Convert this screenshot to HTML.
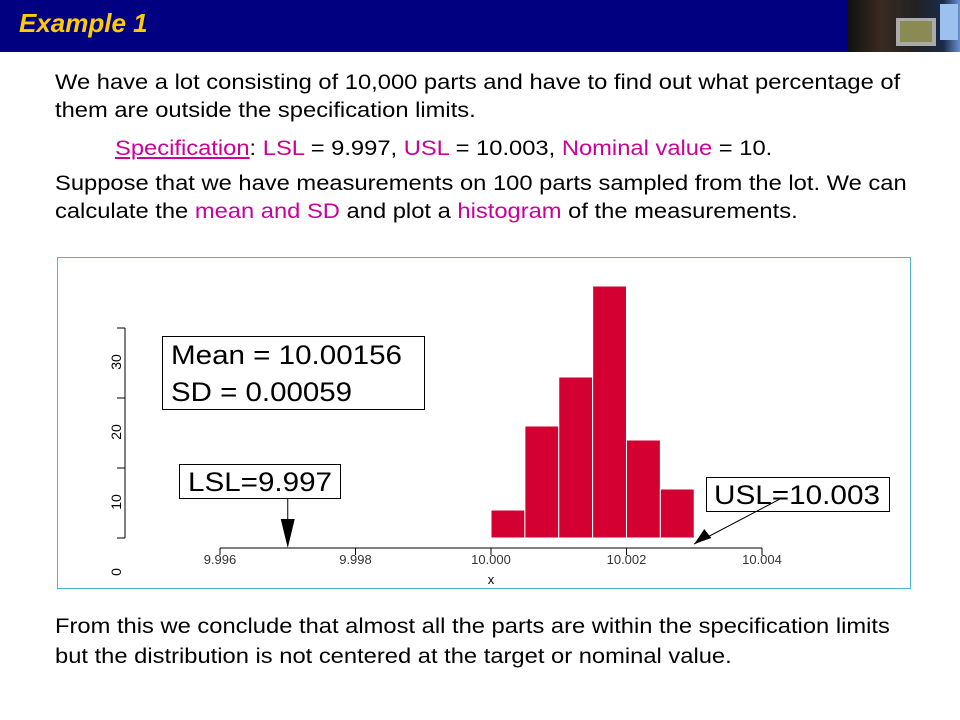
<!DOCTYPE html>
<html><head><meta charset="utf-8"><style>
body{margin:0;width:960px;height:720px;background:#fff;overflow:hidden;font-family:"Liberation Sans",Arial,sans-serif;position:relative}
.hdr{position:absolute;left:0;top:0;width:960px;height:52px;background:#000080}
.ttl{position:absolute;left:19px;top:8px;color:#ffcc00;font-size:26px;font-weight:bold;font-style:italic}
.pic{position:absolute;left:848px;top:0;width:112px;height:52px;background:linear-gradient(90deg,#111 0%,#3a2a20 30%,#222 60%,#1a2a4a 85%,#6a90d0 100%)}
.t{position:absolute;font-size:21px;color:#000;white-space:nowrap;line-height:21px;transform:scaleX(1.13);transform-origin:0 0}
.m{color:#cc0099}
</style></head><body>
<div class="hdr"></div>
<div class="ttl">Example 1</div>
<div class="pic">
<div style="position:absolute;left:48px;top:18px;width:40px;height:28px;background:#aaa"></div>
<div style="position:absolute;left:52px;top:21px;width:32px;height:21px;background:#8a8a55"></div>
<div style="position:absolute;left:92px;top:4px;width:18px;height:36px;background:#9cc0f0"></div>
</div>
<div class="t" style="left:55px;top:72px">We have a lot consisting of 10,000 parts and have to find out what percentage of</div>
<div class="t" style="left:55px;top:100px">them are outside the specification limits.</div>
<div class="t" style="left:115px;top:138px"><span class="m" style="text-decoration:underline">Specification</span>: <span class="m">LSL</span> = 9.997, <span class="m">USL</span> = 10.003, <span class="m">Nominal value</span> = 10.</div>
<div class="t" style="left:55px;top:173px">Suppose that we have measurements on 100 parts sampled from the lot. We can</div>
<div class="t" style="left:55px;top:201px">calculate the <span class="m">mean and SD</span> and plot a <span class="m">histogram</span> of the measurements.</div>
<div class="t" style="left:55px;top:616px">From this we conclude that almost all the parts are within the specification limits</div>
<div class="t" style="left:55px;top:646px">but the distribution is not centered at the target or nominal value.</div>

<svg id="chart" width="960" height="720" style="position:absolute;left:0;top:0" font-family="Liberation Sans, Arial, sans-serif">
<rect x="57.5" y="257.5" width="853" height="331" fill="none" stroke="#4fb3d9" stroke-width="1"/>
</svg>
<script>
const binStarts=[10.0000,10.0005,10.0010,10.0015,10.0020,10.0025];
const counts=[4,16,23,36,14,7];
const binWidth=0.0005;
const xTicks=[9.996,9.998,10.000,10.002,10.004];
const xTickLabels=["9.996","9.998","10.000","10.002","10.004"];
const yTicks=[0,10,20,30];
const lsl=9.997, usl=10.003;

const svg=document.getElementById('chart');
const NS='http://www.w3.org/2000/svg';
const xs=v=>220+(v-9.996)*(542/0.008);
const ys=v=>538-v*7;
function mk(tag,at){const e=document.createElementNS(NS,tag);for(const k in at)e.setAttribute(k,at[k]);svg.appendChild(e);return e;}

binStarts.forEach((b,i)=>{
 const r=mk('rect',{x:xs(b),y:ys(counts[i]),width:xs(b+binWidth)-xs(b),height:ys(0)-ys(counts[i]),fill:'#d50032',stroke:'#fff','stroke-width':1});
 
 
});
const ya=mk('line',{x1:125,x2:125,y1:ys(yTicks[yTicks.length-1]),y2:ys(0),stroke:'#000'});


yTicks.forEach((t,i)=>{
 mk('line',{x1:117,x2:125,y1:ys(t),y2:ys(t),stroke:'#000'});
 const tx=mk('text',{x:0,y:0,'font-size':14,'text-anchor':'middle',transform:`translate(121,${ys(t)+34}) rotate(-90)`});
 tx.textContent=String(t);
 
 
});
const xa=mk('line',{x1:xs(xTicks[0]),x2:xs(xTicks[xTicks.length-1]),y1:548,y2:548,stroke:'#000'});


xTicks.forEach((t,i)=>{
 mk('line',{x1:xs(t),x2:xs(t),y1:548,y2:555,stroke:'#000'});
 const tx=mk('text',{x:xs(t),y:564,'font-size':13,'text-anchor':'middle',fill:'#333'});
 tx.textContent=xTickLabels[i];
 
 
});
const xl=mk('text',{x:xs(10.000),y:584,'font-size':13,'text-anchor':'middle'});
xl.textContent='x';



const sb=mk('rect',{x:162.5,y:336.5,width:262,height:73,fill:'#fff',stroke:'#000'});


const t1=mk('text',{x:171,y:364,'font-size':27,textLength:231,lengthAdjust:'spacingAndGlyphs'});t1.textContent='Mean = 10.00156';


const t2=mk('text',{x:171,y:401,'font-size':27,textLength:181,lengthAdjust:'spacingAndGlyphs'});t2.textContent='SD = 0.00059';



const lb=mk('rect',{x:179.5,y:464.5,width:161,height:34,fill:'#fff',stroke:'#000'});


const lt=mk('text',{x:188,y:491,'font-size':27,textLength:144,lengthAdjust:'spacingAndGlyphs'});lt.textContent='LSL=9.997';


const lx=xs(lsl);
mk('line',{x1:lx,x2:lx,y1:499,y2:530,stroke:'#000'});
const la=mk('polygon',{points:`${lx-7},519 ${lx+7},519 ${lx},548`,fill:'#000'});



const ub=mk('rect',{x:706.5,y:477.5,width:183,height:34,fill:'#fff',stroke:'#000'});


const ut=mk('text',{x:714,y:504,'font-size':27,textLength:166,lengthAdjust:'spacingAndGlyphs'});ut.textContent='USL=10.003';


const ux=xs(usl);
mk('line',{x1:ux,x2:780,y1:544,y2:499,stroke:'#000'});
const ua=mk('polygon',{points:`${ux},544 ${ux+10},529 ${ux+17},538`,fill:'#000'});


</script>
</body></html>
